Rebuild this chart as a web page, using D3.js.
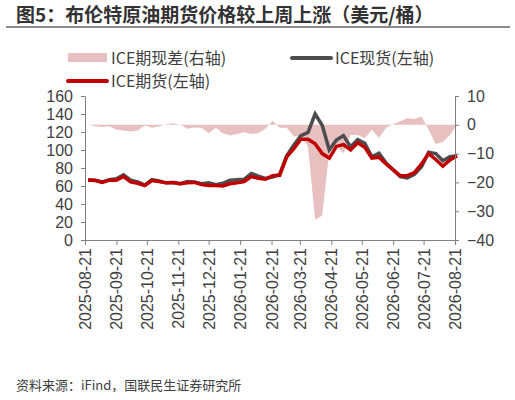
<!DOCTYPE html>
<html><head><meta charset="utf-8">
<script src="https://cdn.jsdelivr.net/npm/d3@7"></script>
<style>
body{margin:0;background:#fff;font-family:"Noto Sans CJK SC","Noto Sans",sans-serif;}
text{fill:#404040;}
</style></head>
<body><svg id="c" width="515" height="400"></svg>
<script>
"use strict";

const startDate = "2025-08-21";
const tickLabels = ["2025-08-21","2025-09-21","2025-10-21","2025-11-21","2025-12-21","2026-01-21",
  "2026-02-21","2026-03-21","2026-04-21","2026-05-21","2026-06-21","2026-07-21","2026-08-21"];
const futures = [66.7,66,64,66.5,66.5,70.5,64.5,63,60.5,66,65,63.5,64,62.5,63.5,64,61.5,60.5,60.5,60,
  62.5,63.5,65,70.5,68.5,67.5,71.5,72,92.5,101.5,112,112,107,96,91,104,106,100,108,103,
  91,92,84.5,78,71.5,71.5,75,84.5,96,89.5,82,89,93.5];
const spot = [66.7,66.5,64.5,67,68,72.5,66.5,64.5,61,67,65.5,63.5,63.5,62.5,65,64.5,62.5,63.5,61.5,63,
  66.5,67,67.5,74,71,68.5,70,73,93.5,105.5,116,119.5,140,127.5,100,111,116,103.5,111.5,107.5,
  92.5,96.5,85.5,78,70.5,69,73,81.5,97.5,96,88,92.5,93.5];
const spread = [0,-0.5,-0.8,-0.5,-1.7,-2,-2.3,-2,-0.2,-1,-0.5,0.2,0.5,0,-1.4,-0.9,-1,-2.9,-1,-2.9,
  -3.7,-3.2,-2.6,-3.2,-2.9,-1.4,1.4,-1,-1,-4,-4,-7.5,-33,-31.5,-9,-7,-10,-3.5,-3.5,-4.6,
  -1.7,-4.6,-1,0.2,1.2,2.3,2,2.9,-1.7,-6.7,-6,-3.5,0];

const parse = d3.timeParse("%Y-%m-%d");
const dates = d3.timeWeek.every(1).range(parse(startDate), d3.timeDay.offset(parse(startDate), 7 * futures.length));

const svg = d3.select("#c");
const x = d3.scaleTime().domain([parse(startDate), parse("2026-08-21")]).range([85, 455]);
const yL = d3.scaleLinear().domain([0, 160]).range([240, 96]);
const yR = d3.scaleLinear().domain([-40, 10]).range([240, 96]);

// title
svg.append("text").attr("x", 16).attr("y", 22).style("font-size", "19px").style("font-weight", "bold")
  .style("fill", "#333").text("图5：布伦特原油期货价格较上周上涨（美元/桶）");
svg.append("line").attr("x1", 6).attr("x2", 510).attr("y1", 27).attr("y2", 27)
  .attr("stroke", "#666").attr("stroke-width", 1.5);

// spread area (right axis)
svg.append("path").datum(spread)
  .attr("fill", "#e9c0c0")
  .attr("d", d3.area().x((d, i) => x(dates[i])).y0(yR(0)).y1(d => yR(d)));

const line = d3.line().x((d, i) => x(dates[i])).y(d => yL(d));
svg.append("path").datum(spot).attr("fill", "none").attr("stroke", "#4d4d4f").attr("stroke-width", 3.5).attr("d", line);
svg.append("path").datum(futures).attr("fill", "none").attr("stroke", "#c00000").attr("stroke-width", 3.5).attr("d", line);

// axes
const gl = svg.append("g").attr("transform", "translate(85,0)")
  .call(d3.axisLeft(yL).tickValues(d3.range(0, 161, 20)).tickSize(4).tickPadding(8));
const gr = svg.append("g").attr("transform", "translate(455,0)")
  .call(d3.axisRight(yR).tickValues(d3.range(-40, 11, 10)).tickSize(4).tickPadding(8));
const gx = svg.append("g").attr("transform", "translate(0,240)")
  .call(d3.axisBottom(x).tickValues(tickLabels.map(parse)).tickFormat(d3.timeFormat("%Y-%m-%d")).tickSize(5));
gx.selectAll("text").attr("transform", "rotate(-90)").attr("x", -8).attr("y", 0)
  .attr("dy", "0").style("text-anchor", "end").attr("dominant-baseline", "central");
[gl, gr, gx].forEach(g => {
  g.selectAll("text").style("font-size", "16px").style("font-family", "Liberation Sans, Arial").style("fill", "#404040");
  g.selectAll("path,line").attr("stroke", "#808080");
});

// legend
svg.append("rect").attr("x", 68).attr("y", 53).attr("width", 39).attr("height", 9).attr("fill", "#e9c0c0");
svg.append("text").attr("x", 111).attr("y", 64).style("font-size", "16px").text("ICE期现差(右轴)");
svg.append("line").attr("x1", 292).attr("x2", 331).attr("y1", 58).attr("y2", 58).attr("stroke", "#4d4d4f").attr("stroke-width", 4).attr("stroke-linecap", "round");
svg.append("text").attr("x", 335).attr("y", 64).style("font-size", "16px").text("ICE现货(左轴)");
svg.append("line").attr("x1", 68).attr("x2", 107).attr("y1", 81).attr("y2", 81).attr("stroke", "#c00000").attr("stroke-width", 4).attr("stroke-linecap", "round");
svg.append("text").attr("x", 111).attr("y", 87).style("font-size", "16px").text("ICE期货(左轴)");

// source
svg.append("text").attr("x", 16).attr("y", 390).style("font-size", "13px").text("资料来源：iFind，国联民生证券研究所");
</script></body></html>
